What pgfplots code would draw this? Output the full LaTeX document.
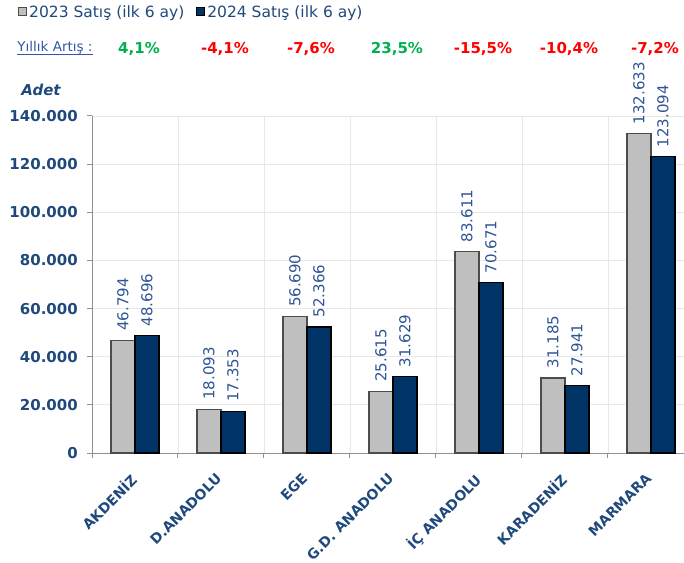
\documentclass[border=0pt]{standalone}
\usepackage{pgfplots}
\pgfplotsset{compat=1.18}
\usepackage{fontspec}
\setmainfont{DejaVu Sans}
\definecolor{dblue}{HTML}{1F497D}
\definecolor{vblue}{HTML}{2F5496}
\definecolor{ublue}{HTML}{3355AA}
\definecolor{bgray}{HTML}{BFBFBF}
\definecolor{bnavy}{HTML}{003366}
\definecolor{grn}{HTML}{00B050}
\definecolor{rd}{HTML}{FF0000}
\definecolor{gridc}{HTML}{E8E8E8}
\definecolor{axc}{HTML}{909090}
\begin{document}
\begin{tikzpicture}[x=1pt,y=1pt]
\path[use as bounding box] (0,0) rectangle (684,562);
\begin{axis}[at={(92pt,109pt)}, anchor=south west, scale only axis,
  width=592pt, height=337pt,
  xmin=-0.5, xmax=6.384, ymin=0, ymax=140000,
  axis x line*=bottom, axis y line*=left,
  axis line style={draw=axc, line width=1pt},
  ybar=0pt, bar width=24pt,
  xtick={0,...,6},
  xticklabels={AKDENİZ,D.ANADOLU,EGE,G.D. ANADOLU,İÇ ANADOLU,KARADENİZ,MARMARA},
  major x tick style={draw=none},
  minor xtick={-0.5,0.5,1.5,2.5,3.5,4.5,5.5},
  xminorgrids, minor x grid style={draw=gridc, line width=0.8pt},
  ymajorgrids, major y grid style={draw=gridc, line width=0.8pt},
  tick align=outside, major tick length=5pt, minor tick length=5pt,
  tick style={draw=axc, line width=1pt},
  ytick={0,20000,40000,60000,80000,100000,120000,140000},
  yticklabels={0,20.000,40.000,60.000,80.000,100.000,120.000,140.000},
  scaled y ticks=false,
  yticklabel style={font=\fontsize{15}{18}\selectfont\bfseries, text=dblue, inner sep=0pt, xshift=-9pt},
  xticklabel style={font=\fontsize{14}{17}\selectfont\bfseries, text=dblue, inner sep=0pt, xshift=-6pt, yshift=-14pt, rotate=45, anchor=north east},
  nodes near coords, point meta=explicit symbolic,
  nodes near coords style={font=\fontsize{15}{18}\selectfont, text=vblue, inner sep=0pt, yshift=9pt, rotate=90, anchor=west},
  clip=false,
  legend columns=2,
  legend style={at={(axis description cs:-0.125,1.3086)}, anchor=west, draw=none, fill=none,
    font=\fontsize{15.5}{18}\selectfont, text=dblue, inner sep=0pt,
    /tikz/every even column/.append style={column sep=10pt}},
  legend image code/.code={\draw[#1, line width=1pt] (0pt,-4pt) rectangle (8pt,4pt);},
]
\addplot[fill=bgray, draw=black!70, line width=1.2pt] coordinates {
 (0,46794) [46.794] (1,18093) [18.093] (2,56690) [56.690] (3,25615) [25.615]
 (4,83611) [83.611] (5,31185) [31.185] (6,132633) [132.633]};
\addplot[fill=bnavy, draw=black, line width=1.2pt] coordinates {
 (0,48696) [48.696] (1,17353) [17.353] (2,52366) [52.366] (3,31629) [31.629]
 (4,70671) [70.671] (5,27941) [27.941] (6,123094) [123.094]};
\legend{2023 Satış (ilk 6 ay),2024 Satış (ilk 6 ay)}
\begin{scope}[every node/.style={font=\fontsize{15}{18}\selectfont\bfseries, xshift=4pt}]
\node[text=grn] at (axis cs:0,167834) {4,1\%};
\node[text=rd] at (axis cs:1,167834) {-4,1\%};
\node[text=rd] at (axis cs:2,167834) {-7,6\%};
\node[text=grn] at (axis cs:3,167834) {23,5\%};
\node[text=rd] at (axis cs:4,167834) {-15,5\%};
\node[text=rd] at (axis cs:5,167834) {-10,4\%};
\node[text=rd] at (axis cs:6,167834) {-7,2\%};
\end{scope}
\end{axis}
\node[font=\fontsize{13.5}{16}\selectfont, text=ublue, inner sep=0pt] (ya) at (55,514) {Yıllık Artış :};
\draw[ublue, line width=0.8pt] ([yshift=-2.2pt]ya.base west) -- ([yshift=-2.2pt]ya.base east);
\node[font=\fontsize{15}{18}\selectfont\bfseries\itshape, text=dblue] at (41,472) {Adet};
\end{tikzpicture}
\end{document}
